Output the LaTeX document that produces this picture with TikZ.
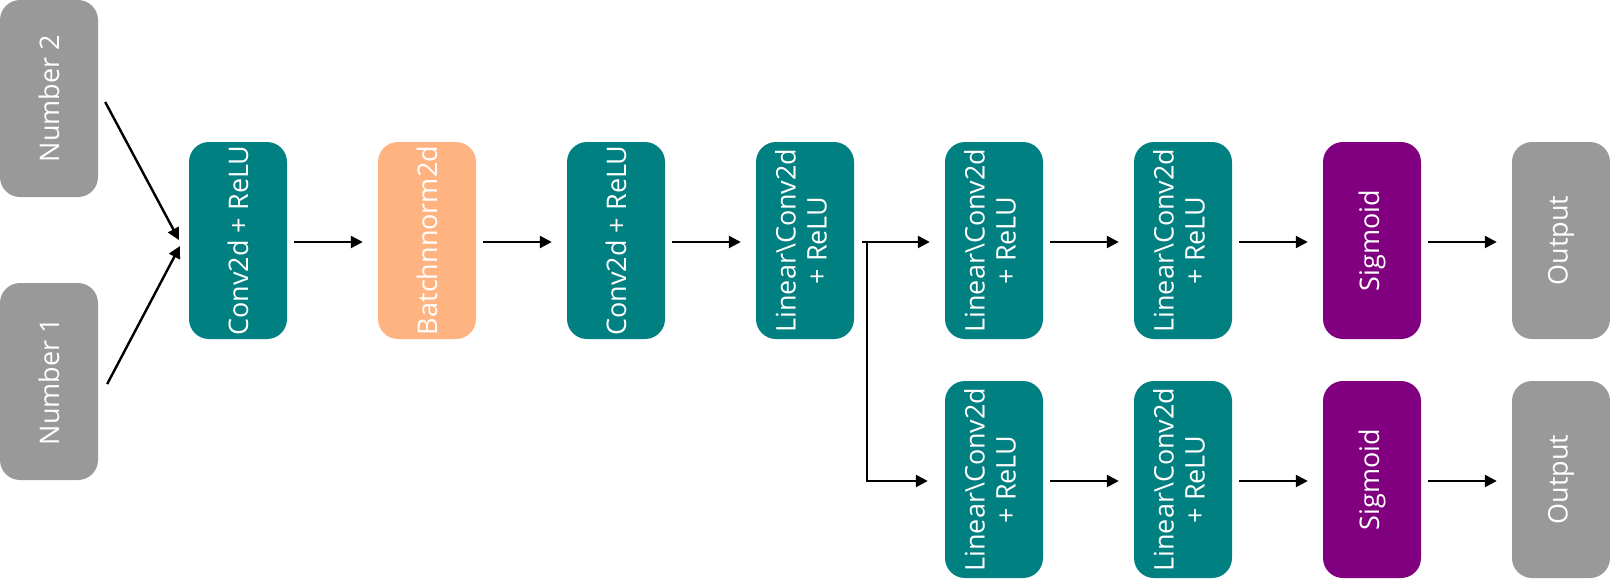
\documentclass[tikz,border=0pt]{standalone}
\usepackage{fontspec}
\setmainfont{Open Sans}
\usetikzlibrary{arrows.meta,calc}
\definecolor{tealbox}{RGB}{0,128,128}
\definecolor{orangebox}{RGB}{255,179,128}
\definecolor{purplebox}{RGB}{128,0,128}
\definecolor{graybox}{RGB}{153,153,153}
\begin{document}
\begin{tikzpicture}[x=1pt,y=-1pt,
  blk/.style={rounded corners=20pt, minimum width=98pt, minimum height=197pt,
    inner sep=0pt, text=white, font=\fontsize{27}{31}\selectfont},
  tealblk/.style={blk, fill=tealbox},
  orangeblk/.style={blk, fill=orangebox},
  purpleblk/.style={blk, fill=purplebox},
  grayblk/.style={blk, fill=graybox},
  arr/.style={line width=2.4pt, -{Triangle[length=12pt,width=12pt]}},
]
\useasboundingbox (0,0) rectangle (1610,579);
\newcommand{\vtext}[1]{\rotatebox{90}{#1}}
\newcommand{\vtwo}[2]{\rotatebox{90}{\begin{tabular}{@{}c@{}}#1\\#2\end{tabular}}}
% inputs
\node[grayblk] (n2) at (49,98.5) {\vtext{Number 2}};
\node[grayblk] (n1) at (49,381.5) {\vtext{Number 1}};
% main chain
\node[tealblk] (c1) at (238,240.5) {\vtext{Conv2d + ReLU}};
\node[orangeblk] (bn) at (427,240.5) {\vtext{Batchnnorm2d}};
\node[tealblk] (c2) at (616,240.5) {\vtext{Conv2d + ReLU}};
\node[tealblk] (l0) at (805,240.5) {\vtwo{Linear\textbackslash Conv2d}{+ ReLU}};
% top branch
\node[tealblk] (t1) at (994,240.5) {\vtwo{Linear\textbackslash Conv2d}{+ ReLU}};
\node[tealblk] (t2) at (1183,240.5) {\vtwo{Linear\textbackslash Conv2d}{+ ReLU}};
\node[purpleblk] (ts) at (1372,240.5) {\vtext{Sigmoid}};
\node[grayblk] (to) at (1561,240.5) {\vtext{Output}};
% bottom branch
\node[tealblk] (b1) at (994,479.5) {\vtwo{Linear\textbackslash Conv2d}{+ ReLU}};
\node[tealblk] (b2) at (1183,479.5) {\vtwo{Linear\textbackslash Conv2d}{+ ReLU}};
\node[purpleblk] (bs) at (1372,479.5) {\vtext{Sigmoid}};
\node[grayblk] (bo) at (1561,479.5) {\vtext{Output}};
% merge points
\coordinate (m2) at (179,240);
\coordinate (m1) at (180,246);
\draw[arr] ([xshift=7pt,yshift=-3.5pt]n2.east) -- (m2);
\draw[arr] ([xshift=9pt,yshift=-2.5pt]n1.east) -- (m1);
% horizontal arrows
\foreach \a/\b in {c1/bn, bn/c2, c2/l0, t1/t2, t2/ts, ts/to, b1/b2, b2/bs, bs/bo}{
  \draw[arr] ([xshift=7pt,yshift=-1.5pt]\a.east) -- ([xshift=-15pt,yshift=-1.5pt]\b.west);
}
% branch
\draw[arr] ([xshift=8pt,yshift=-1.5pt]l0.east) -- ([xshift=-15pt,yshift=-1.5pt]t1.west);
\draw[arr] ([xshift=13pt,yshift=-1.5pt]l0.east) |- ([xshift=-17pt,yshift=-1.5pt]b1.west);
\end{tikzpicture}
\end{document}
